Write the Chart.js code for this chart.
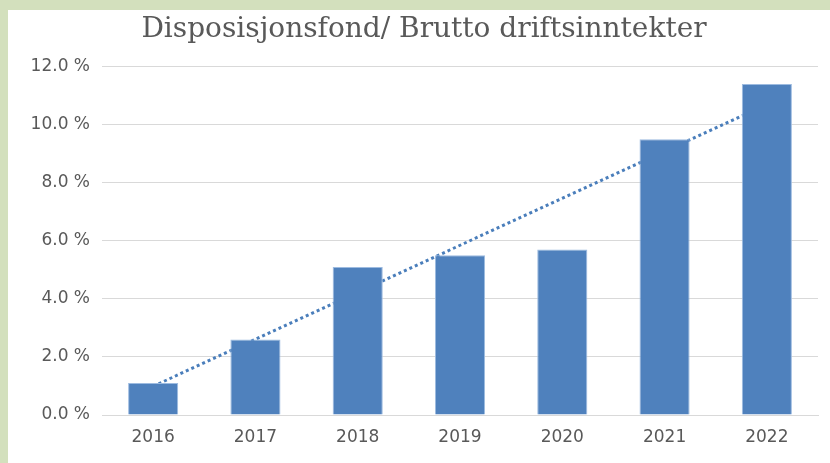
<!DOCTYPE html>
<html>
<head>
<meta charset="utf-8">
<script src="https://cdn.jsdelivr.net/npm/chart.js@4"></script>
<style>
html,body{margin:0;padding:0;background:#d3e0bd;width:830px;height:463px;overflow:hidden;}
#box{position:absolute;left:8px;top:10px;width:822px;height:453px;background:#fff;}
</style>
</head>
<body>
<div id="box"><canvas id="c" width="822" height="453"></canvas></div>
<script>
const titleText = 'Disposisjonsfond/ Brutto driftsinntekter';
const categories = ['2016','2017','2018','2019','2020','2021','2022'];
const values = [1.1, 2.6, 5.1, 5.5, 5.7, 9.5, 11.4];
const trendValues = [0.99, null, null, null, null, null, 10.7];
const yTicks = [0, 2, 4, 6, 8, 10, 12];

const shiftTitle = {
  id: 'shiftTitle',
  afterLayout(chart) {
    if (chart.titleBlock) { chart.titleBlock.left += 22; }
  }
};

const ctx = document.getElementById('c');
new Chart(ctx, {
  data: {
    labels: categories,
    datasets: [
      {
        type: 'line',
        data: trendValues,
        spanGaps: true,
        borderColor: '#4a7ebb',
        borderWidth: 3,
        borderDash: [3, 3],
        pointRadius: 0,
        fill: false,
        order: 2
      },
      {
        type: 'bar',
        data: values,
        backgroundColor: '#4f81bd',
        borderColor: '#9dbbe0',
        borderWidth: 1,
        barPercentage: 0.49,
        categoryPercentage: 1.0,
        order: 1
      }
    ]
  },
  plugins: [shiftTitle],
  options: {
    responsive: false,
    animation: false,
    layout: { padding: { left: 0, right: 12, top: 0, bottom: 0 } },
    plugins: {
      legend: { display: false },
      tooltip: { enabled: false },
      title: {
        display: true,
        text: titleText,
        color: '#595959',
        font: { family: 'DejaVu Serif', size: 28, weight: 'normal', lineHeight: 1.2 },
        padding: { top: 3, bottom: 20 }
      }
    },
    scales: {
      x: {
        grid: { display: false, drawTicks: false },
        border: { color: '#d9d9d9', width: 1 },
        ticks: { color: '#595959', font: { family: 'DejaVu Sans', size: 17 }, padding: 12 },
        afterFit: s => { s.height = 48; }
      },
      y: {
        min: 0, max: 12,
        afterBuildTicks: s => { s.ticks = yTicks.map(v => ({ value: v })); },
        grid: { color: '#d9d9d9', drawTicks: false },
        border: { display: false },
        ticks: {
          color: '#595959',
          font: { family: 'DejaVu Sans', size: 17 },
          padding: 12,
          callback: v => v.toFixed(1) + ' %'
        },
        afterFit: s => { s.width = 94; }
      }
    }
  }
});
</script>
</body>
</html>
